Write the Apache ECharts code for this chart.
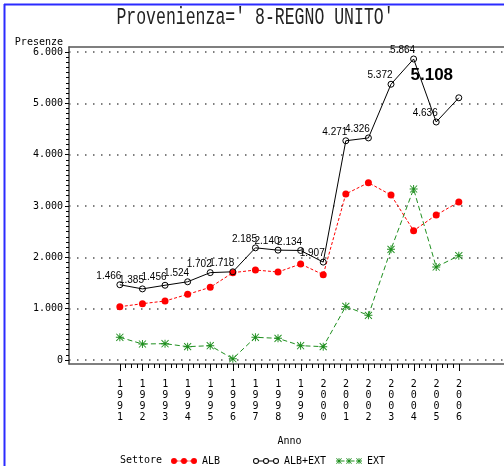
<!DOCTYPE html>
<html>
<head>
<meta charset="utf-8">
<script src="https://cdn.jsdelivr.net/npm/echarts@6/dist/echarts.min.js"></script>
<style>
html, body { margin: 0; padding: 0; background: #fff; }
#chart { width: 504px; height: 466px; }
</style>
</head>
<body>
<div id="chart"></div>
<script>
// dati
const years = [1991, 1992, 1993, 1994, 1995, 1996, 1997, 1998, 1999, 2000, 2001, 2002, 2003, 2004, 2005, 2006];
const alb = [1038, 1097, 1149, 1279, 1416, 1701, 1753, 1714, 1870, 1662, 3234, 3454, 3214, 2519, 2825, 3078];
const albExt = [1466, 1385, 1456, 1524, 1702, 1718, 2185, 2140, 2134, 1907, 4271, 4326, 5372, 5864, 4636, 5108];
const ext = [442, 312, 318, 260, 279, 25, 442, 422, 279, 260, 1045, 870, 2156, 3331, 1812, 2032];
const yMin = 0, yMax = 6000, yStep = 1000;

const monoFont = '"DejaVu Sans Mono", monospace';
const numFont = '"Liberation Sans Narrow", "Liberation Sans", Arial, sans-serif';

function fmt(v) {
    return String(v).replace(/\B(?=(\d{3})+(?!\d))/g, '.');
}

// simboli
const starPath = 'path://M4.4,0L5.6,0L5.6,10L4.4,10Z M0,4.4L10,4.4L10,5.6L0,5.6Z M1,0.2L9.8,9L9,9.8L0.2,1Z M9,0.2L9.8,1L1,9.8L0.2,9Z';
const iconAlb = 'path://M0,3a3,3 0 1,0 6,0a3,3 0 1,0 -6,0Z M10,3a3,3 0 1,0 6,0a3,3 0 1,0 -6,0Z M20,3a3,3 0 1,0 6,0a3,3 0 1,0 -6,0Z M6,2.5h1.5v1h-1.5Z M8.5,2.5h1.5v1h-1.5Z M16,2.5h1.5v1h-1.5Z M18.5,2.5h1.5v1h-1.5Z';
const iconAlbExt = 'path://M0,3a3,3 0 1,0 6,0a3,3 0 1,0 -6,0Z M1,3a2,2 0 1,1 4,0a2,2 0 1,1 -4,0Z M10,3a3,3 0 1,0 6,0a3,3 0 1,0 -6,0Z M11,3a2,2 0 1,1 4,0a2,2 0 1,1 -4,0Z M20,3a3,3 0 1,0 6,0a3,3 0 1,0 -6,0Z M21,3a2,2 0 1,1 4,0a2,2 0 1,1 -4,0Z M6,2.5h4v1h-4Z M16,2.5h4v1h-4Z';
const iconExt = 'path://M2.6,0L3.4,0L3.4,6L2.6,6Z M0,2.6L6,2.6L6,3.4L0,3.4Z M0.6,0.1L5.9,5.4L5.4,5.9L0.1,0.6Z M5.4,0.1L5.9,0.6L0.6,5.9L0.1,5.4Z M12.6,0L13.4,0L13.4,6L12.6,6Z M10,2.6L16,2.6L16,3.4L10,3.4Z M10.6,0.1L15.9,5.4L15.4,5.9L10.1,0.6Z M15.4,0.1L15.9,0.6L10.6,5.9L10.1,5.4Z M22.6,0L23.4,0L23.4,6L22.6,6Z M20,2.6L26,2.6L26,3.4L20,3.4Z M20.6,0.1L25.9,5.4L25.4,5.9L20.1,0.6Z M25.4,0.1L25.9,0.6L20.6,5.9L20.1,5.4Z M6,2.6h2.5v0.8h-2.5Z M16,2.6h2.5v0.8h-2.5Z';

const pairs = arr => arr.map((v, i) => [years[i], v]);
const albExtData = albExt.map((v, i) => {
    if (i === albExt.length - 1) {
        return { value: [years[i], v], label: { fontSize: 17, fontWeight: 'bold', fontFamily: 'Liberation Sans, Arial, sans-serif', offset: [-27, -10] } };
    }
    return [years[i], v];
});

const chart = echarts.init(document.getElementById('chart'), null, { renderer: 'canvas' });

const legendText = { color: '#000', fontFamily: monoFont, fontSize: 10 };

const option = {
    animation: false,
    backgroundColor: '#fff',
    title: {
        text: 'Settore', left: 115, top: 450,
        textStyle: { fontFamily: monoFont, fontSize: 10, fontWeight: 'normal', color: '#000' }
    },
    graphic: [
        { type: 'line', shape: { x1: 4, y1: 4.5, x2: 504, y2: 4.5 }, style: { stroke: '#2b2bff', lineWidth: 2 } },
        { type: 'line', shape: { x1: 4.5, y1: 4, x2: 4.5, y2: 466 }, style: { stroke: '#2b2bff', lineWidth: 2 } },
        {
            type: 'text', x: 255, y: 18, scaleY: 1.45,
            style: { text: "Provenienza=' 8-REGNO UNITO'", x: 0, y: 0, textAlign: 'center', textVerticalAlign: 'middle', fill: '#222', font: '16.5px "Liberation Mono", "DejaVu Sans Mono", monospace' }
        }
    ],
    legend: [
        { data: [{ name: 'ALB', icon: iconAlb }], left: 166, top: 451, itemWidth: 26, itemHeight: 6, itemGap: 0, textStyle: legendText },
        {
            data: [{ name: 'ALB+EXT', icon: iconAlbExt, itemStyle: { color: '#000', borderWidth: 0, borderColor: 'rgba(0,0,0,0)' } }],
            left: 248, top: 451, itemWidth: 26, itemHeight: 6, itemGap: 0, textStyle: legendText
        },
        { data: [{ name: 'EXT', icon: iconExt }], left: 331, top: 451, itemWidth: 26, itemHeight: 6, itemGap: 0, textStyle: legendText }
    ],
    grid: [
        { left: 69, top: 47, width: 435, height: 317 },
        { left: 69, top: 52, width: 435, height: 308 },
        { left: 120, top: 52, width: 339, height: 312 }
    ],
    xAxis: [
        { gridIndex: 0, type: 'value', min: 0, max: 1, position: 'bottom', axisLine: { lineStyle: { color: '#555', width: 1.5 } }, axisTick: { show: false }, axisLabel: { show: false }, splitLine: { show: false } },
        { gridIndex: 0, type: 'value', min: 0, max: 1, position: 'top', axisLine: { lineStyle: { color: '#555', width: 1.5 } }, axisTick: { show: false }, axisLabel: { show: false }, splitLine: { show: false } },
        { gridIndex: 1, type: 'value', min: 1988.75, max: 2008, show: false },
        {
            gridIndex: 2, type: 'value', min: years[0], max: years[years.length - 1], interval: 1, position: 'bottom',
            name: 'Anno', nameLocation: 'middle', nameGap: 72,
            nameTextStyle: { fontFamily: monoFont, fontSize: 10, color: '#000' },
            axisLine: { show: false },
            axisTick: { show: true, length: 7, lineStyle: { color: '#000' } },
            minorTick: { show: true, splitNumber: 4, length: 4, lineStyle: { color: '#000' } },
            splitLine: { show: false },
            axisLabel: {
                margin: 15, color: '#000', fontFamily: monoFont, fontSize: 10, lineHeight: 11,
                formatter: v => String(v).split('').join('\n')
            }
        }
    ],
    yAxis: [
        { gridIndex: 0, type: 'value', min: 0, max: 1, axisLine: { show: true, lineStyle: { color: '#444', width: 1.5 } }, axisTick: { show: false }, axisLabel: { show: false }, splitLine: { show: false } },
        {
            gridIndex: 1, type: 'value', min: yMin, max: yMax, interval: yStep,
            name: 'Presenze', nameLocation: 'end', nameGap: 2,
            nameTextStyle: { fontFamily: monoFont, fontSize: 10, color: '#000', align: 'right', padding: [0, 6, 0, 0] },
            axisLine: { show: false },
            axisTick: { show: true, length: 4, lineStyle: { color: '#000' } },
            minorTick: { show: true, splitNumber: 10, length: 3, lineStyle: { color: '#000' } },
            axisLabel: { margin: 6, color: '#000', fontFamily: monoFont, fontSize: 10, formatter: v => fmt(v) },
            splitLine: { show: true, lineStyle: { color: '#555', width: 1.5, type: [1.5, 6.5] } }
        },
        { gridIndex: 2, type: 'value', min: yMin, max: yMax, show: false }
    ],
    series: [
        {
            name: 'EXT', type: 'line', xAxisIndex: 2, yAxisIndex: 1,
            data: pairs(ext),
            symbol: starPath, symbolSize: 8,
            itemStyle: { color: '#1f8f1f' },
            lineStyle: { color: '#1f8f1f', width: 1, type: [5, 3] }
        },
        {
            name: 'ALB', type: 'line', xAxisIndex: 2, yAxisIndex: 1,
            data: pairs(alb),
            symbol: 'circle', symbolSize: 7,
            itemStyle: { color: '#ff0000' },
            lineStyle: { color: '#ff0000', width: 1, type: [3, 2] }
        },
        {
            name: 'ALB+EXT', type: 'line', xAxisIndex: 2, yAxisIndex: 1,
            data: albExtData,
            symbol: 'circle', symbolSize: 6,
            itemStyle: { color: 'rgba(255,255,255,0)', borderColor: '#000', borderWidth: 1 },
            lineStyle: { color: '#000', width: 1 },
            label: {
                show: true, position: 'top', distance: 0, offset: [-11, 0],
                color: '#000', fontFamily: numFont, fontSize: 10,
                formatter: p => fmt(p.value[1])
            }
        }
    ]
};

chart.setOption(option);
</script>
</body>
</html>
